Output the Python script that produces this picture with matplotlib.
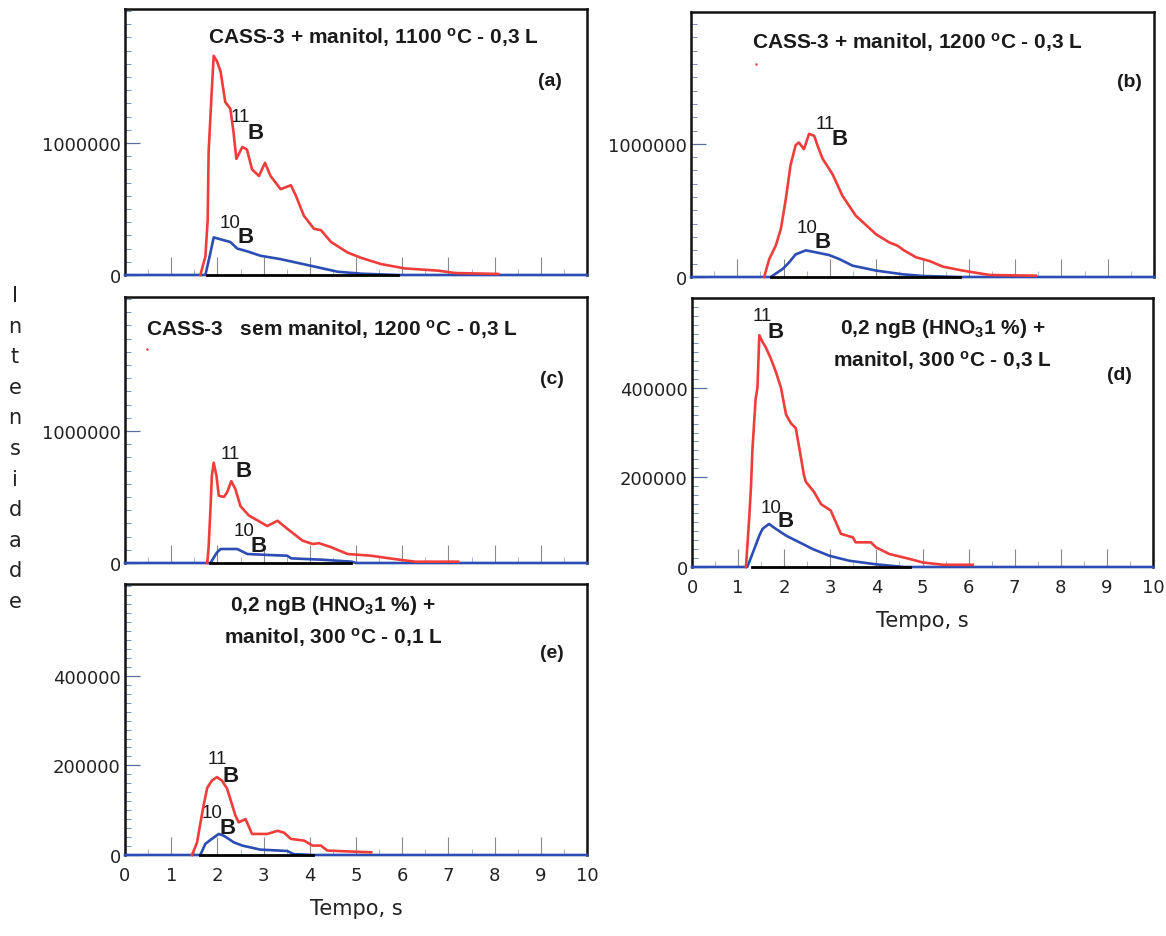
import matplotlib
matplotlib.use("Agg")
import matplotlib.pyplot as plt
from matplotlib.ticker import MultipleLocator, FixedLocator, NullFormatter

plt.rcParams['font.family'] = ['DejaVu Sans']
plt.rcParams['mathtext.fontset'] = 'custom'
plt.rcParams['mathtext.rm'] = 'Liberation Sans:bold'
plt.rcParams['mathtext.bf'] = 'Liberation Sans:bold'
plt.rcParams['mathtext.it'] = 'Liberation Sans:bold'

# ---------------- data ----------------
panel_ids = ["a", "b", "c", "d", "e"]

titles = {
    "a": ["CASS-3 + manitol, 1100 $^{\\mathrm{o}}$C - 0,3 L"],
    "b": ["CASS-3 + manitol, 1200 $^{\\mathrm{o}}$C - 0,3 L"],
    "c": ["CASS-3   sem manitol, 1200 $^{\\mathrm{o}}$C - 0,3 L"],
    "d": ["0,2 ngB (HNO$_{3}$1 %) +", "manitol, 300 $^{\\mathrm{o}}$C - 0,3 L"],
    "e": ["0,2 ngB (HNO$_{3}$1 %) +", "manitol, 300 $^{\\mathrm{o}}$C - 0,1 L"],
}

# time (s) / intensity
a_t11 = [1.63, 1.74, 1.79, 1.81, 1.88, 1.92, 1.99, 2.07, 2.17, 2.28, 2.35, 2.41, 2.54, 2.64, 2.75, 2.90,
         3.03, 3.15, 3.37, 3.59, 3.70, 3.87, 4.09, 4.24, 4.46, 4.82, 5.11, 5.54, 6.05, 6.78, 7.14, 8.08]
a_i11 = [0, 140000, 420000, 930000, 1410000, 1660000, 1620000, 1540000, 1310000, 1260000, 1080000, 880000,
         970000, 950000, 800000, 750000, 850000, 750000, 650000, 680000, 600000, 450000, 350000, 340000,
         250000, 170000, 130000, 83000, 50000, 33000, 15000, 8000]
a_t10 = [0, 1.74, 1.85, 1.92, 2.07, 2.28, 2.43, 2.64, 2.93, 3.37, 4.02, 4.60, 5.11, 5.9, 10]
a_i10 = [0, 0, 170000, 285000, 270000, 250000, 200000, 180000, 146000, 120000, 70000, 25000, 10000, 0, 0]

b_t11 = [1.58, 1.69, 1.83, 1.94, 2.05, 2.15, 2.26, 2.33, 2.44, 2.55, 2.66, 2.73, 2.84, 3.06, 3.27, 3.56,
         4.0, 4.28, 4.46, 4.6, 4.86, 5.15, 5.44, 5.87, 6.45, 7.45]
b_i11 = [0, 135000, 235000, 360000, 590000, 840000, 990000, 1010000, 960000, 1075000, 1060000, 990000,
         890000, 770000, 610000, 460000, 320000, 260000, 235000, 200000, 148000, 120000, 78000, 48000,
         15000, 10000]
b_t10 = [0, 1.72, 1.98, 2.12, 2.26, 2.48, 2.70, 2.98, 3.2, 3.49, 4.0, 4.58, 5.0, 5.8, 10]
b_i10 = [0, 0, 60000, 110000, 170000, 200000, 185000, 165000, 135000, 85000, 48000, 20000, 8000, 0, 0]

c_t11 = [1.78, 1.81, 1.85, 1.88, 1.92, 1.98, 2.03, 2.14, 2.21, 2.30, 2.39, 2.5, 2.68, 2.93, 3.08, 3.30,
         3.51, 3.84, 4.06, 4.2, 4.46, 4.82, 5.33, 5.83, 6.28, 7.21]
c_i11 = [0, 120000, 410000, 660000, 760000, 660000, 510000, 500000, 535000, 620000, 560000, 430000,
         360000, 310000, 280000, 320000, 260000, 170000, 144000, 150000, 120000, 68000, 55000, 30000,
         10000, 10000]
c_t10 = [0, 1.85, 1.99, 2.07, 2.43, 2.65, 3.15, 3.51, 3.6, 4.26, 4.91, 5.0, 10]
c_i10 = [0, 0, 80000, 106000, 106000, 68000, 60000, 55000, 35000, 25000, 10000, 0, 0]

d_t11 = [1.17, 1.24, 1.28, 1.31, 1.38, 1.42, 1.46, 1.53, 1.60, 1.71, 1.82, 1.93, 2.04, 2.15, 2.25, 2.33,
         2.43, 2.47, 2.65, 2.80, 3.01, 3.23, 3.49, 3.55, 3.88, 3.99, 4.28, 4.72, 5.01, 5.45, 6.09]
d_i11 = [0, 107000, 180000, 260000, 375000, 400000, 517000, 502000, 490000, 465000, 435000, 400000,
         340000, 320000, 310000, 264000, 204000, 190000, 167000, 140000, 126000, 74000, 66000, 55000,
         55000, 44000, 29000, 18000, 10000, 5000, 5000]
d_t10 = [0, 1.2, 1.35, 1.46, 1.53, 1.67, 1.82, 2.04, 2.33, 2.62, 2.98, 3.41, 3.99, 4.6, 10]
d_i10 = [0, 0, 40000, 70000, 85000, 96000, 85000, 70000, 55000, 40000, 25000, 14000, 6000, 0, 0]

e_t11 = [1.45, 1.56, 1.63, 1.70, 1.78, 1.88, 1.99, 2.10, 2.21, 2.28, 2.39, 2.46, 2.61, 2.75, 3.08, 3.30,
         3.44, 3.59, 3.88, 4.06, 4.24, 4.38, 4.82, 5.33]
e_i11 = [0, 28000, 70000, 110000, 150000, 166000, 174000, 166000, 148000, 125000, 88000, 73000, 80000,
         47000, 47000, 54000, 50000, 36000, 32000, 21000, 21000, 10000, 8000, 6000]
e_t10 = [0, 1.63, 1.74, 1.88, 2.03, 2.14, 2.36, 2.54, 2.93, 3.51, 3.65, 4.06, 10]
e_i10 = [0, 0, 25000, 36000, 47000, 43000, 28000, 21000, 12000, 9000, 2000, 0, 0]

# black baseline trace (start, end) in s
black_start = {"a": 1.78, "b": 1.72, "c": 1.85, "d": 1.3, "e": 1.63}
black_end = {"a": 5.9, "b": 5.8, "c": 4.9, "d": 4.72, "e": 4.06}

# stray red points
stray_t = {"b": [1.4], "c": [0.48]}
stray_i = {"b": [1600000], "c": [1620000]}

# isotope label anchors (t, intensity)
lab11 = {"a": (2.5, 1200000), "b": (2.91, 1150000), "c": (2.28, 830000), "d": (1.53, 560000), "e": (1.99, 215000)}
labB11 = {"a": (2.83, 1080000), "b": (3.2, 1040000), "c": (2.57, 700000), "d": (1.82, 525000), "e": (2.28, 177000)}
lab10 = {"a": (2.28, 400000), "b": (2.51, 375000), "c": (2.57, 245000), "d": (1.71, 133000), "e": (1.88, 95000)}
labB10 = {"a": (2.61, 290000), "b": (2.84, 270000), "c": (2.9, 130000), "d": (2.04, 103000), "e": (2.21, 62000)}

y_major = {"a": [0, 1000000], "b": [0, 1000000], "c": [0, 1000000],
           "d": [0, 200000, 400000], "e": [0, 200000, 400000]}
y_minor_step = {"a": 100000, "b": 100000, "c": 100000, "d": 20000, "e": 20000}
y_max = {"a": 2015000, "b": 1990000, "c": 2015000, "d": 600000, "e": 605000}
x_ticks = [0, 1, 2, 3, 4, 5, 6, 7, 8, 9, 10]

series = {
    "a": (a_t11, a_i11, a_t10, a_i10),
    "b": (b_t11, b_i11, b_t10, b_i10),
    "c": (c_t11, c_i11, c_t10, c_i10),
    "d": (d_t11, d_i11, d_t10, d_i10),
    "e": (e_t11, e_i11, e_t10, e_i10),
}

# ---------------- layout ----------------
W, H = 1166, 937
boxes = {  # left, top, right, bottom in px
    "a": (125, 10, 587, 276),
    "b": (691, 13, 1154, 278),
    "c": (125, 298, 587, 564),
    "d": (692, 299, 1153, 568),
    "e": (125, 585, 587, 856),
}
title_pos = {"a": (0.537, [0.898]), "b": (0.488, [0.89]), "c": (0.448, [0.88]),
             "d": (0.544, [0.892, 0.773]), "e": (0.45, [0.926, 0.808])}
letter_pos = {"a": (0.92, 0.73), "b": (0.948, 0.736), "c": (0.924, 0.692),
              "d": (0.928, 0.717), "e": (0.924, 0.749)}

RED = "#ee3d3a"
BLUE = "#2c4db3"

fig = plt.figure(figsize=(W / 100, H / 100), dpi=100)
fig.patch.set_facecolor("white")

for pid in panel_ids:
    l, t, r, b = boxes[pid]
    ax = fig.add_axes([l / W, 1 - b / H, (r - l) / W, (b - t) / H])
    t11, i11, t10, i10 = series[pid]
    ax.plot(t10, i10, color=BLUE, lw=1.9, clip_on=False, zorder=3)
    ax.plot([black_start[pid], black_end[pid]], [0, 0], color="black", lw=2.0, clip_on=False, zorder=3.5)
    ax.plot(t11, i11, color=RED, lw=1.9, clip_on=False, zorder=4)
    if pid in stray_t:
        ax.plot(stray_t[pid], stray_i[pid], 'o', color=RED, ms=1.8, mec='none')

    ax.set_xlim(0, 10)
    ax.set_ylim(0, y_max[pid])

    for s in ["top", "right", "left"]:
        ax.spines[s].set_color("#111111")
        ax.spines[s].set_linewidth(1.8)
    ax.spines["bottom"].set_visible(False)

    ax.yaxis.set_major_locator(FixedLocator(y_major[pid]))
    ax.yaxis.set_minor_locator(MultipleLocator(y_minor_step[pid]))
    ax.set_yticklabels([str(v) for v in y_major[pid]], fontsize=13, color="#222222")
    ax.tick_params(axis="y", which="major", direction="in", length=11, width=0.9, color="#5a6f9a", pad=3)
    ax.tick_params(axis="y", which="minor", direction="in", length=4, width=0.7, color="#7a8fb8")

    ax.xaxis.set_major_locator(FixedLocator(x_ticks))
    ax.xaxis.set_minor_locator(MultipleLocator(0.5))
    ax.tick_params(axis="x", which="major", direction="in", length=13, width=0.8, color="#8a8a8a",
                   labelsize=13, labelcolor="#222222", pad=8)
    ax.tick_params(axis="x", which="minor", direction="in", length=4, width=0.6, color="#9aaacc")
    if pid in ("d", "e"):
        ax.set_xticklabels([str(v) for v in x_ticks])
        ax.set_xlabel("Tempo, s", fontsize=15, color="#222222", labelpad=10)
    else:
        ax.xaxis.set_major_formatter(NullFormatter())

    xc, ys = title_pos[pid]
    for line, yy in zip(titles[pid], ys):
        ax.text(xc, yy, line, transform=ax.transAxes, ha="center", va="center",
                fontsize=15, fontweight="bold", family="Liberation Sans", color="#1a1a1a")
    lx, ly = letter_pos[pid]
    ax.text(lx, ly, "(%s)" % pid, transform=ax.transAxes, ha="center", va="center",
            fontsize=14, fontweight="bold", family="Liberation Sans", color="#1a1a1a")

    ax.text(*lab11[pid], "11", ha="center", va="center", fontsize=13.5, family="Liberation Sans", color="#1a1a1a")
    ax.text(*labB11[pid], "B", ha="center", va="center", fontsize=16, fontweight="bold",
            family="Liberation Sans", color="#1a1a1a")
    ax.text(*lab10[pid], "10", ha="center", va="center", fontsize=13.5, family="Liberation Sans", color="#1a1a1a")
    ax.text(*labB10[pid], "B", ha="center", va="center", fontsize=16, fontweight="bold",
            family="Liberation Sans", color="#1a1a1a")

# vertical stacked y label
ylabel_letters = list("Intensidade")
for k, ch in enumerate(ylabel_letters):
    fig.text(15 / W, 1 - (296 + k * 30.6) / H, ch, ha="center", va="center", fontsize=15, color="#222222")

fig.savefig("out.png", dpi=100, facecolor="white")
